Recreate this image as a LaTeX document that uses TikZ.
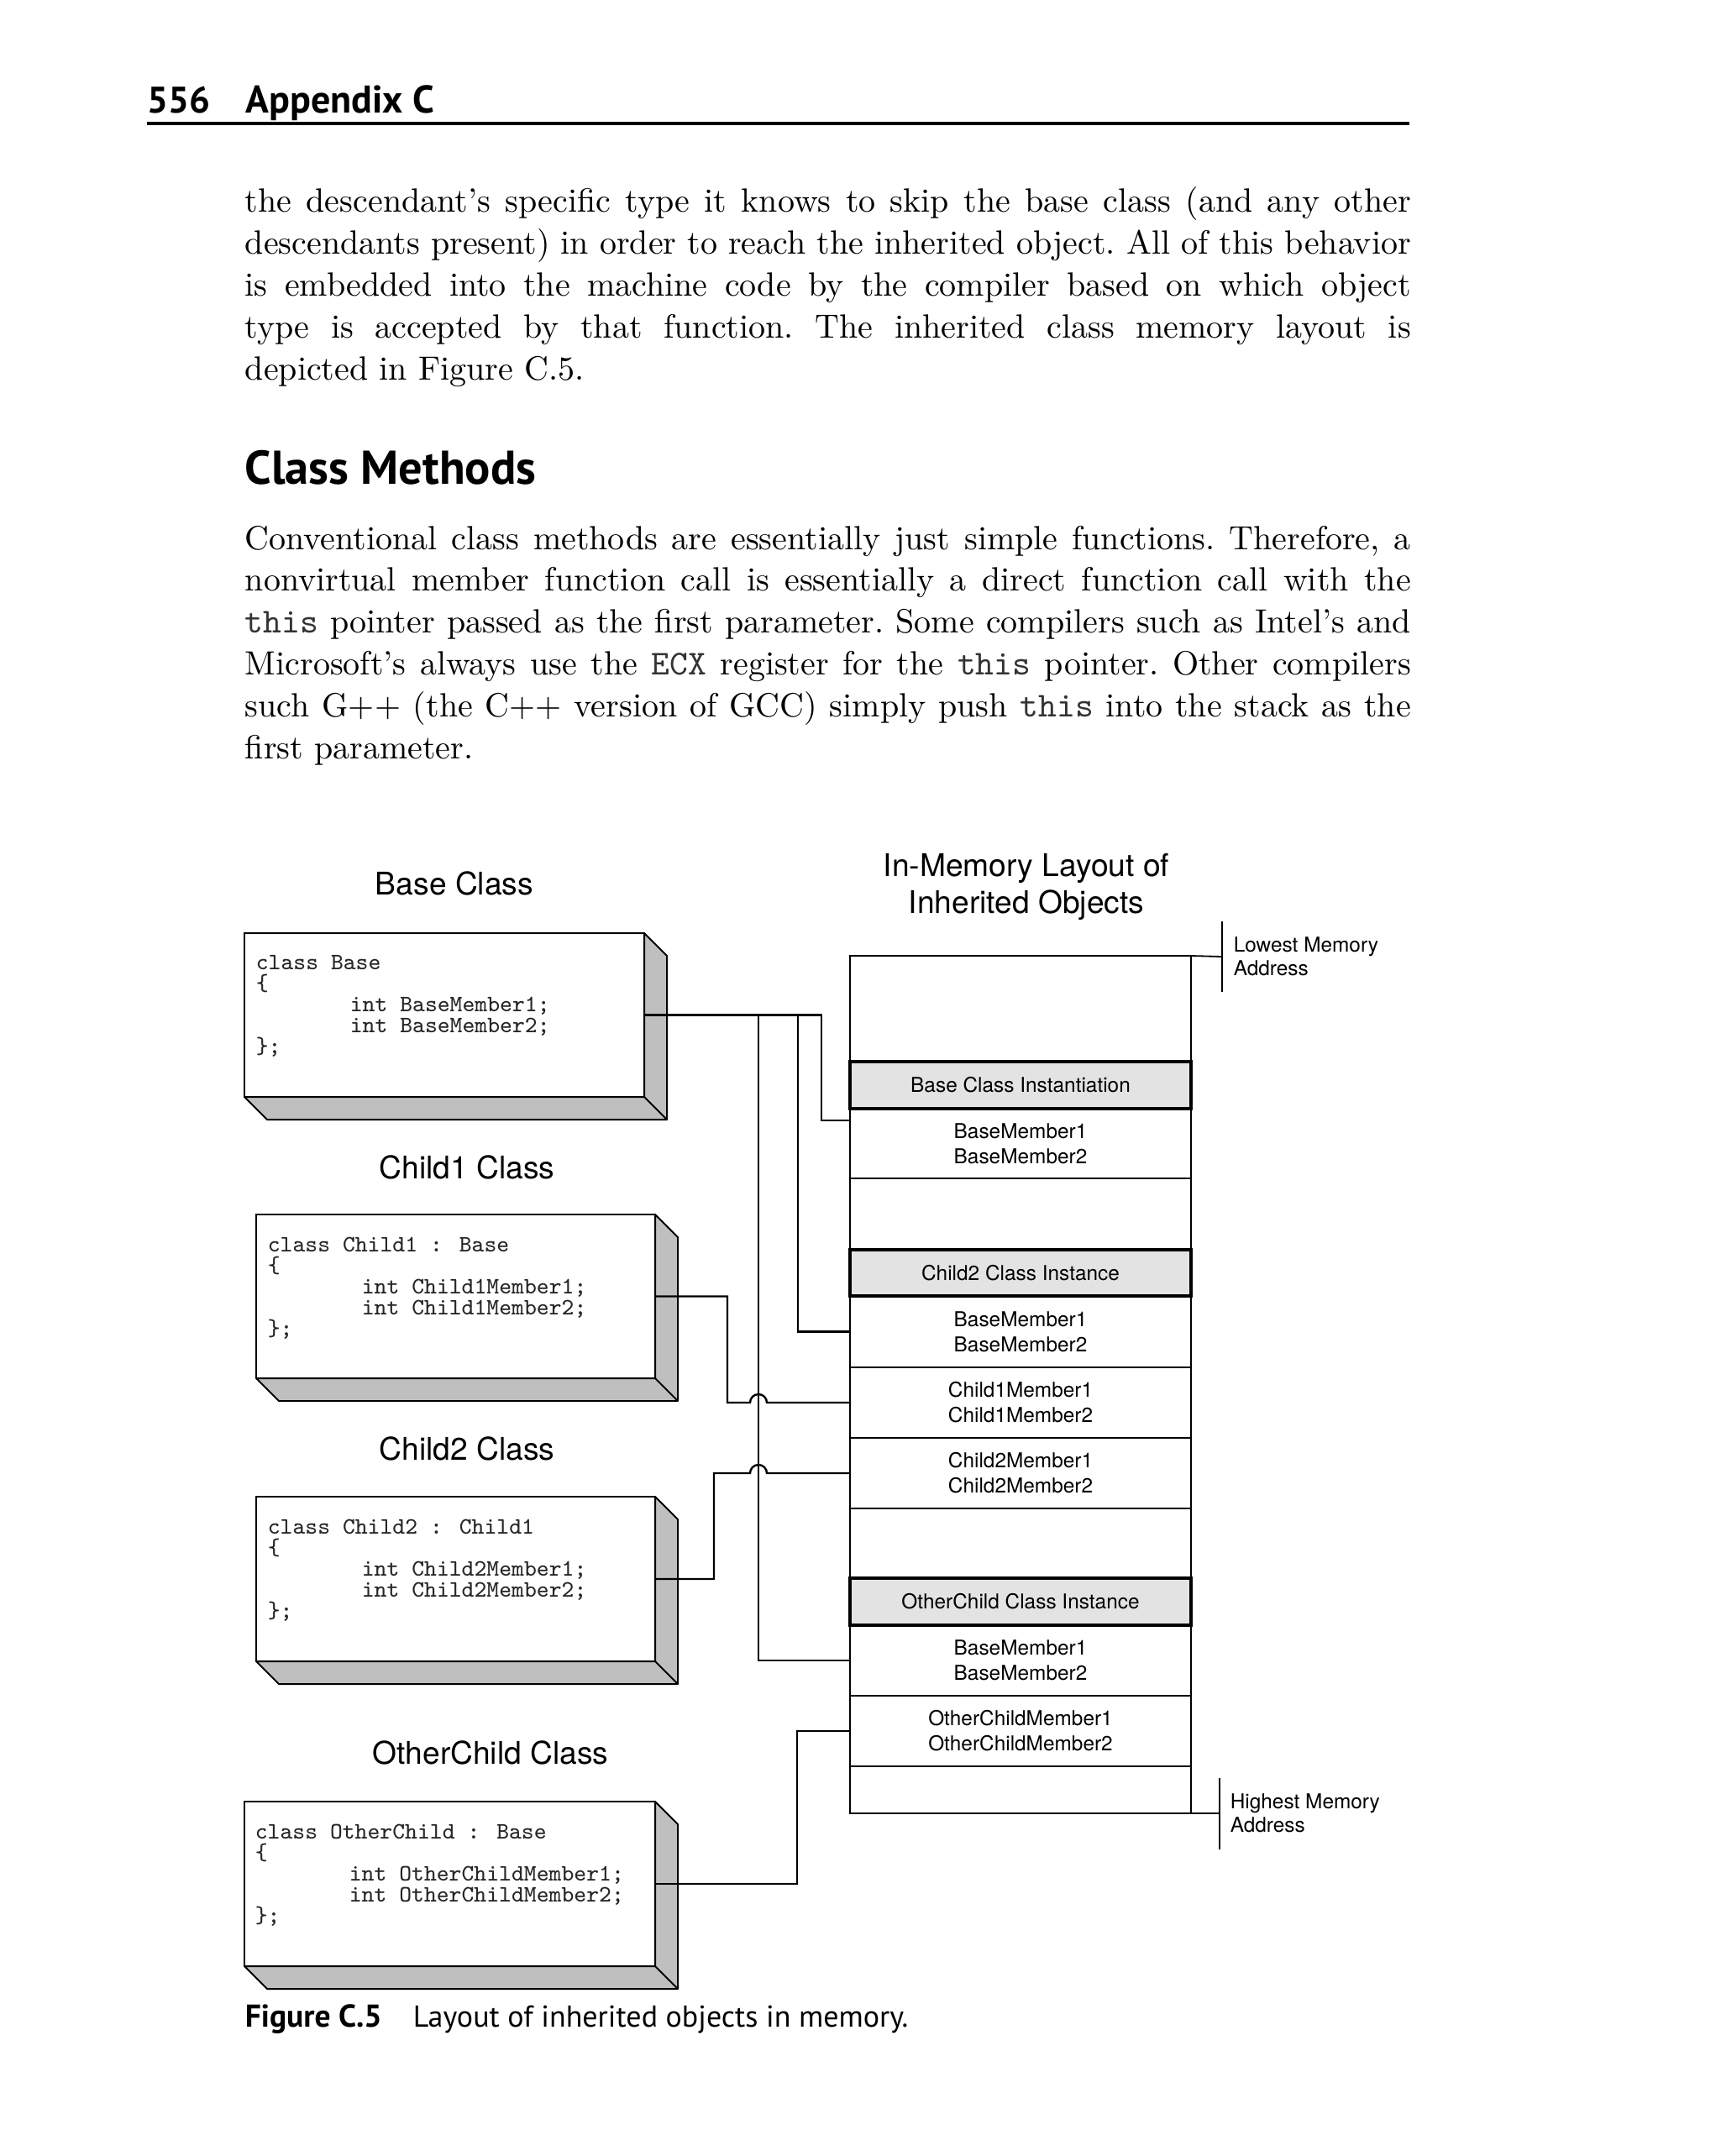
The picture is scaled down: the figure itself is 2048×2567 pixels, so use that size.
\documentclass[tikz,border=0pt]{standalone}
\usepackage{fontspec}
\usepackage{tikz}
\usetikzlibrary{positioning}
\newfontfamily\headfont{PT Sans}
\newfontfamily\figfont{TeX Gyre Heros}
\newcommand{\bodytt}[1]{{\ttfamily\fontsize{10.4}{12.45}\selectfont\color{black!80}#1}}
\newcommand{\jline}[1]{\hbox to 347pt{\spaceskip=0pt\xspaceskip=0pt\frenchspacing #1}}
\newcommand{\slabfaces}[1]{%
  \filldraw[slabface] (#1.north east) -- ([shift={(27,27)}]#1.north east)
    -- ([shift={(27,27)}]#1.south east) -- ([shift={(27,27)}]#1.south west)
    -- (#1.south west) -- (#1.south east) -- cycle;
  \draw[slabface, fill=none] (#1.south east) -- ([shift={(27,27)}]#1.south east);}
\definecolor{slabgrey}{gray}{0.75}
\definecolor{hdrgrey}{gray}{0.89}
\setlength{\lineskiplimit}{-5pt}

\begin{document}
\begin{tikzpicture}[x=0.25pt, y=-0.25pt,
  para/.style = {anchor=base west, inner sep=0, text width=347pt, font=\fontsize{10}{12.45}\selectfont},
  ttl/.style = {anchor=base, inner sep=0, align=center, font=\figfont\fontsize{9.3}{11}\selectfont},
  slab/.style = {draw, line width=0.5pt, fill=white, anchor=north west, inner sep=0, outer sep=0},
  slabface/.style = {fill=slabgrey, draw, line width=0.5pt, line join=round},
  code/.style = {anchor=north west, inner sep=0, align=left, text=black!85, font=\ttfamily\fontsize{7}{6.25}\selectfont},
  cell/.style = {draw, line width=0.45pt, minimum width=101.5pt, inner sep=0, outer sep=0, align=center, font=\figfont\fontsize{6.1}{7.5}\selectfont},
  hdr/.style = {cell, fill=hdrgrey, line width=0.8pt},
  wire/.style = {line width=0.6pt},
  memnote/.style = {anchor=west, inner sep=0, align=left, font=\figfont\fontsize{6.1}{7}\selectfont}]
\useasboundingbox (0,0) rectangle (2048,2567);
\fill[white] (0,0) rectangle (2048,2567);

\node[anchor=base west, inner sep=0, font=\headfont\bfseries\fontsize{11}{13}\selectfont] (pagenum) at (175,135) {556};
\node[anchor=base west, inner sep=0, font=\headfont\bfseries\fontsize{11.5}{13}\selectfont] (runhead) at (292,135) {Appendix C};
\coordinate (ruleL) at (175,147);
\coordinate (ruleR) at (1678,147);
\draw[line width=0.8pt] (ruleL) -- (ruleR);

\node[para] (intro) at (291,253) {%
\jline{the descendant's specific type it knows to skip the base class (and any other}
\jline{descendants present) in order to reach the inherited object. All of this behavior}
\jline{is embedded into the machine code by the compiler based on which object}
\jline{type is accepted by that function. The inherited class memory layout is}
\hbox{depicted in Figure C.5.}};

\node[anchor=base west, inner sep=0, font=\headfont\bfseries\fontsize{14.1}{16}\selectfont] (secttl) at (291,576) {Class Methods};

\node[para] (methods) at (291,654) {%
\jline{Conventional class methods are essentially just simple functions. Therefore, a}
\jline{nonvirtual member function call is essentially a direct function call with the}
\jline{\bodytt{this} pointer passed as the first parameter. Some compilers such as Intel's and}
\jline{Microsoft's always use the \bodytt{ECX} register for the \bodytt{this} pointer. Other compilers}
\jline{such G++ (the C++ version of GCC) simply push \bodytt{this} into the stack as the}
\hbox{first parameter.}};

\node[ttl] (basettl) at (541,1065) {Base Class};
\node[ttl] (c1ttl) at (556,1403) {Child1 Class};
\node[ttl] (c2ttl) at (556,1738) {Child2 Class};
\node[ttl] (octtl) at (584,2100) {OtherChild Class};
\node[ttl] (memttl) at (1222,1087) {In-Memory Layout of\\Inherited Objects};

\node[slab, minimum width=119pt, minimum height=48.75pt] (basebox) at (291,1111) {};
\slabfaces{basebox}
\node[code] (basecode) at ([shift={(13,26)}]basebox.north west) {class Base\\\{\\\hspace*{28pt}int BaseMember1;\\\hspace*{28pt}int BaseMember2;\\\};};

\node[slab, minimum width=118.75pt, minimum height=48.75pt] (c1box) at (305,1446) {};
\slabfaces{c1box}
\node[code] (c1code) at ([shift={(13,26)}]c1box.north west) {class Child1 : Base\\\{\\\hspace*{28pt}int Child1Member1;\\\hspace*{28pt}int Child1Member2;\\\};};

\node[slab, minimum width=118.75pt, minimum height=49pt] (c2box) at (305,1782) {};
\slabfaces{c2box}
\node[code] (c2code) at ([shift={(13,26)}]c2box.north west) {class Child2 : Child1\\\{\\\hspace*{28pt}int Child2Member1;\\\hspace*{28pt}int Child2Member2;\\\};};

\node[slab, minimum width=122.25pt, minimum height=49pt] (ocbox) at (291,2145) {};
\slabfaces{ocbox}
\node[code] (occode) at ([shift={(12,26)}]ocbox.north west) {class OtherChild : Base\\\{\\\hspace*{28pt}int OtherChildMember1;\\\hspace*{28pt}int OtherChildMember2;\\\};};

\node[cell, minimum height=31.5pt, anchor=north west] (gap0) at (1012,1138) {};
\node[hdr, minimum height=14pt, below=0pt of gap0] (basehdr) {Base Class Instantiation};
\node[cell, minimum height=20.75pt, below=0pt of basehdr] (bm1) {BaseMember1\\BaseMember2};
\node[cell, minimum height=21.25pt, below=0pt of bm1] (gap1) {};
\node[hdr, minimum height=13.75pt, below=0pt of gap1] (c2hdr) {Child2 Class Instance};
\node[cell, minimum height=21.25pt, below=0pt of c2hdr] (bm2) {BaseMember1\\BaseMember2};
\node[cell, minimum height=21pt, below=0pt of bm2] (c1m) {Child1Member1\\Child1Member2};
\node[cell, minimum height=21pt, below=0pt of c1m] (c2m) {Child2Member1\\Child2Member2};
\node[cell, minimum height=20.75pt, below=0pt of c2m] (gap2) {};
\node[hdr, minimum height=14pt, below=0pt of gap2] (ochdr) {OtherChild Class Instance};
\node[cell, minimum height=21pt, below=0pt of ochdr] (bm3) {BaseMember1\\BaseMember2};
\node[cell, minimum height=21pt, below=0pt of bm3] (ocm) {OtherChildMember1\\OtherChildMember2};
\node[cell, minimum height=14pt, below=0pt of ocm] (gap3) {};

\coordinate (lowtick) at (1455,1139);
\draw[line width=0.45pt] (gap0.north east) -- (lowtick);
\draw[line width=0.5pt] ([yshift=10.5pt]lowtick) -- ([yshift=-10.5pt]lowtick);
\node[memnote] (lownote) at ([xshift=3.25pt]lowtick) {Lowest Memory\\Address};
\coordinate (hightick) at (1452,2159);
\draw[line width=0.45pt] (gap3.south east) -- (hightick);
\draw[line width=0.5pt] ([yshift=10.5pt]hightick) -- ([yshift=-10.75pt]hightick);
\node[memnote] (highnote) at ([xshift=3pt]hightick) {Highest Memory\\Address};

\coordinate (bm1in) at ([yshift=-3.5pt]bm1.north west);
\draw[wire] (basebox.east) -| ([xshift=-8.5pt]bm1in) -- (bm1in);
\draw[wire] (basebox.east) -| ([xshift=-15.5pt]bm2.west) -- (bm2.west);
\draw[wire] (basebox.east) -| ([xshift=-27.25pt]bm3.west) -- (bm3.west);
\draw[wire] (c1box.east) -| ([xshift=-36.5pt]c1m.west) -- ([xshift=-29.75pt]c1m.west) arc[start angle=180, end angle=0, radius=2.5pt] -- (c1m.west);
\draw[wire] (c2box.east) -| ([xshift=-40.5pt]c2m.west) -- ([xshift=-29.75pt]c2m.west) arc[start angle=180, end angle=0, radius=2.5pt] -- (c2m.west);
\draw[wire] (ocbox.east) -| ([xshift=-15.75pt]ocm.west) -- (ocm.west);

\node[anchor=base west, inner sep=0, font=\headfont\bfseries\fontsize{9.4}{11}\selectfont] (capnum) at (291,2413) {Figure C.5};
\node[anchor=base west, inner sep=0, font=\headfont\fontsize{9}{11}\selectfont] (captext) at (491,2413) {Layout of inherited objects in memory.};
\end{tikzpicture}
\end{document}
